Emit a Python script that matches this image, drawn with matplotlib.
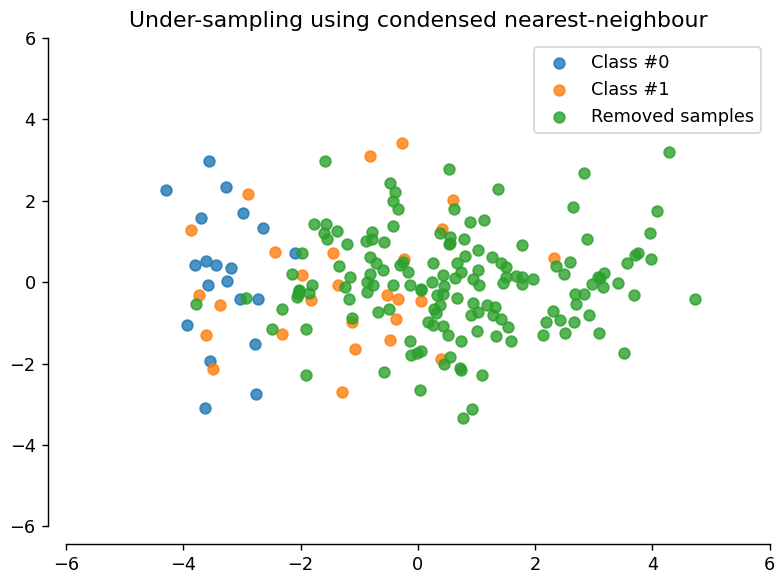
import matplotlib
matplotlib.use("Agg")
import matplotlib.pyplot as plt
import numpy as np

# samples kept for class #0
class0_x = [-4.30, -3.56, -3.27, -3.70, -2.99, -2.64, -3.80, -3.61, -3.45, -3.18,
            -3.25, -3.58, -3.04, -2.73, -3.93, -2.78, -3.55, -3.63, -2.76, -2.10]
class0_y = [2.26, 2.97, 2.34, 1.57, 1.70, 1.33, 0.43, 0.52, 0.43, 0.34,
            0.02, -0.08, -0.41, -0.41, -1.05, -1.52, -1.94, -3.09, -2.75, 0.71]

# samples kept for class #1
class1_x = [-2.89, -3.87, -2.44, -3.74, -3.37, -3.61, -3.50, -2.32, -0.27, -0.81,
            0.60, 0.41, -1.45, -0.23, -1.97, -1.36, -1.83, -1.13, -0.52, -0.34,
            -0.38, 0.05, -0.48, -1.08, 0.40, -1.30, 2.32]
class1_y = [2.16, 1.27, 0.74, -0.31, -0.56, -1.30, -2.13, -1.27, 3.41, 3.11,
            2.01, 1.30, 0.71, 0.57, 0.18, -0.07, -0.44, -0.97, -0.31, -0.41,
            -0.90, -0.47, -1.43, -1.65, -1.88, -2.70, 0.60]

# samples dropped by the condensed nearest-neighbour rule
removed_x = [-2.15, -3.78, -2.93, -2.32, -2.05, -2.03, -2.48, -1.58, 0.53, -0.47,
             -0.39, -0.42, -0.34, 0.62, -1.77, -1.57, -1.60, -1.55, -1.38, -0.78,
             -0.89, -0.79, -0.57, -0.42, -1.20, 0.38, 0.53, -1.97, -1.34, -0.81,
             -0.72, -0.59, -0.82, -0.25, -0.31, -0.16, 0.26, 0.42, -1.15, -1.80,
             -1.24, -0.87, -0.76, -0.43, -0.14, 0.06, 0.24, 0.44, -2.02, -2.06,
             -1.85, -1.17, -1.12, -0.87, -0.49, -0.68, 0.05, 0.32, 0.43, 0.27,
             0.31, 0.37, 0.17, 0.25, 0.42, 0.52, -1.90, -0.14, -0.12, -0.01,
             0.06, 0.45, -1.90, -0.57, 0.03, 2.83, 1.36, 2.64, 0.89, 1.12,
             0.55, 0.55, 0.78, 2.88, 1.78, 1.02, 0.81, 0.67, 0.74, 1.27,
             1.41, 1.51, 1.50, 1.45, 1.02, 0.94, 1.04, 0.63, 1.67, 1.78,
             1.78, 1.97, 2.36, 2.49, 2.60, 2.97, 3.07, 0.67, 0.94, 0.90,
             1.03, 1.18, 1.31, 1.28, 1.41, 1.53, 1.00, 1.33, 1.59, 0.74,
             0.55, 0.72, 0.74, 1.10, 0.93, 0.77, 2.68, 2.83, 2.70, 2.31,
             2.19, 2.43, 2.66, 2.92, 2.13, 2.51, 3.09, 4.29, 4.08, 3.95,
             3.76, 3.70, 3.97, 3.57, 3.18, 3.10, 3.41, 3.15, 3.69, 4.72,
             3.52]
removed_y = [0.20, -0.54, -0.38, -0.66, -0.28, -0.20, -1.15, 2.98, 2.77, 2.43,
             2.21, 2.00, 1.80, 1.80, 1.44, 1.42, 1.20, 1.07, 1.26, 1.24,
             1.02, 1.05, 0.98, 1.38, 0.93, 1.20, 0.95, 0.71, 0.40, 0.62,
             0.46, 0.31, 0.21, 0.50, 0.43, 0.25, 0.46, 0.18, 0.12, -0.07,
             -0.11, 0.01, -0.07, -0.06, -0.07, -0.16, 0.00, -0.10, -0.21, -0.36,
             -0.26, -0.41, -0.87, -0.24, -0.66, -0.73, -0.20, -0.32, -0.28, -0.66,
             -0.77, -0.57, -0.97, -1.06, -1.08, -1.30, -1.15, -1.45, -1.80, -1.75,
             -1.69, -2.00, -2.29, -2.22, -2.66, 2.68, 2.30, 1.84, 1.48, 1.54,
             1.11, 0.97, 1.07, 1.07, 0.92, 0.79, 0.64, 0.46, 0.25, 0.61,
             0.48, 0.38, 0.13, -0.02, 0.30, 0.07, -0.07, 0.09, 0.15, 0.13,
             -0.05, 0.08, 0.39, 0.20, 0.49, -0.04, 0.13, -0.38, -0.52, -0.80,
             -0.73, -0.57, -0.61, -0.81, -0.90, -1.11, -1.21, -1.33, -1.45, -1.45,
             -1.85, -2.10, -2.16, -2.29, -3.11, -3.33, -0.28, -0.28, -0.54, -0.71,
             -0.97, -0.93, -0.97, -0.80, -1.30, -1.24, -1.24, 3.20, 1.75, 1.20,
             0.71, 0.67, 0.56, 0.46, 0.23, 0.09, -0.03, -0.11, -0.31, -0.41,
             -1.73]

fig = plt.figure(figsize=(776 / 128, 577 / 128), dpi=128)
ax = fig.add_axes([0.085, 0.088, 0.907, 0.846])

ax.scatter(class0_x, class0_y, label="Class #0", alpha=0.8)
ax.scatter(class1_x, class1_y, label="Class #1", alpha=0.8)
ax.scatter(removed_x, removed_y, label="Removed samples", alpha=0.8)

ax.set_title("Under-sampling using condensed nearest-neighbour", fontsize=12.4)

# make nice plotting
ax.spines["top"].set_visible(False)
ax.spines["right"].set_visible(False)
ax.get_xaxis().tick_bottom()
ax.get_yaxis().tick_left()
ax.spines["left"].set_position(("outward", 10))
ax.spines["bottom"].set_position(("outward", 10))
ax.set_xlim([-6, 6])
ax.set_ylim([-6, 6])

ax.legend(loc="upper right")

fig.savefig("out.png", dpi=128)
